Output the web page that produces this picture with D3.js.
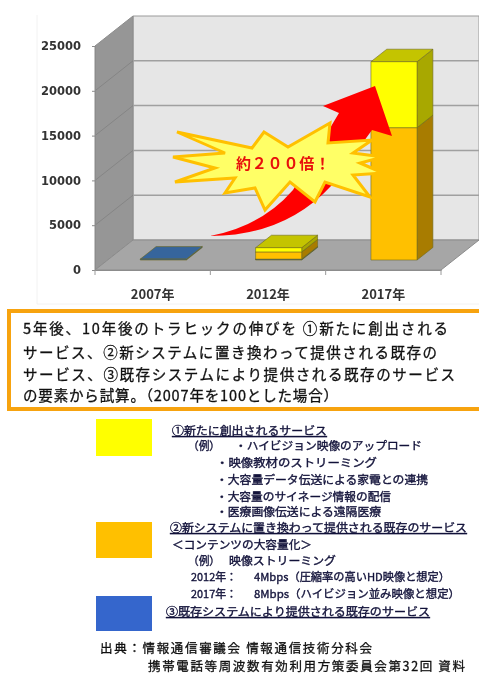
<!DOCTYPE html>
<html>
<head>
<meta charset="utf-8">
<script src="https://cdn.jsdelivr.net/npm/d3@7"></script>
<style>
html, body { margin: 0; padding: 0; background: #fff; overflow: hidden; }
svg { display: block; filter: blur(0.7px); }
</style>
</head>
<body>
<div id="visualizationTarget"></div>
<script>
// chart values
var years = ["2007年", "2012年", "2017年"];
var seriesNames = ["existing", "migrated", "created"];
var existing = [100, 100, 0];
var migrated = [0, 800, 14770];
var created = [0, 470, 7360];
var yTicks = [0, 5000, 10000, 15000, 20000, 25000];
var burstLabel = "約２００倍！";

var boxLines = [
    "5年後、10年後のトラヒックの伸びを ①新たに創出される",
    "サービス、②新システムに置き換わって提供される既存の",
    "サービス、③既存システムにより提供される既存のサービス",
    "の要素から試算。（2007年を100とした場合）"
];

// legend texts: [text, x, y, width, underlined]
var legendLines = [
    ["①新たに創出されるサービス", 172, 431, 155, true],
    ["（例）", 188, 446, 32, false],
    ["・ハイビジョン映像のアップロード", 235, 446, 187, false],
    ["・映像教材のストリーミング", 216, 463, 161, false],
    ["・大容量データ伝送による家電との連携", 216, 480, 212, false],
    ["・大容量のサイネージ情報の配信", 216, 497, 175, false],
    ["・医療画像伝送による遠隔医療", 216, 512, 165, false],
    ["②新システムに置き換わって提供される既存のサービス", 170, 528, 297, true],
    ["＜コンテンツの大容量化＞", 172, 545, 140, false],
    ["（例）", 188, 561, 32, false],
    ["映像ストリーミング", 229, 561, 107, false],
    ["2012年：", 191, 577, 46, false],
    ["4Mbps（圧縮率の高いHD映像と想定）", 254, 577, 196, false],
    ["2017年：", 191, 594, 46, false],
    ["8Mbps（ハイビジョン並み映像と想定）", 254, 594, 206, false],
    ["③既存システムにより提供される既存のサービス", 166, 612, 264, true]
];

var sourceLines = [
    ["出典：情報通信審議会 情報通信技術分科会", 100, 649, 272],
    ["携帯電話等周波数有効利用方策委員会第32回 資料", 148, 667, 317]
];

var width = 479, height = 674;
var jpFont = "'Noto Sans CJK JP', sans-serif";

var svg = d3.select("#visualizationTarget").append("svg")
    .attr("width", width)
    .attr("height", height);

// 3d box settings
var left = 95, right = 441, depthX = 38, depthY = 30;
var barFront = 1 / 3, barBack = 0.75;

var y = d3.scaleLinear().domain([0, 25000]).range([270, 46]);
var x = d3.scaleBand().domain(years).range([left, right]).paddingInner(0.6).paddingOuter(0.3);

function project(px, v, d) {
    return [px + depthX * d, y(v) - depthY * d];
}
function poly(points) {
    return "M" + points.map(function(p){ return p.join(","); }).join("L") + "Z";
}

// faint frame around the chart picture
svg.append("path")
    .attr("d", "M37,15V304H479")
    .attr("fill", "none")
    .attr("stroke", "#f2f2f2");

// walls and floor
svg.append("path")
    .attr("d", poly([project(left, 25000, 1), project(width - depthX, 25000, 1), project(width - depthX, 0, 1), project(left, 0, 1)]))
    .attr("fill", "#e6e6e6")
    .attr("stroke", "#9a9a9a");
svg.append("path")
    .attr("d", poly([project(left, 25000, 0), project(left, 25000, 1), project(left, 0, 1), project(left, 0, 0)]))
    .attr("fill", "#969696")
    .attr("stroke", "#8c8c8c");
svg.append("path")
    .attr("d", poly([project(left, 0, 0), project(left, 0, 1), project(width - depthX, 0, 1), project(right, 0, 0)]))
    .attr("fill", "#a6a6a6")
    .attr("stroke", "#8c8c8c");

// gridlines on back wall and left wall
var grid = svg.append("g").selectAll("g")
    .data(yTicks.slice(1, 5))
    .enter().append("g")
    .attr("fill", "none");
grid.append("path")
    .attr("d", function(d){ return d3.line()([project(left, d, 1), project(width - depthX, d, 1)]); })
    .attr("stroke", "#a0a0a0")
    .attr("stroke-width", 1.5);
grid.append("path")
    .attr("d", function(d){ return d3.line()([project(left, d, 0), project(left, d, 1)]); })
    .attr("stroke", "#858585");

// axes
var yAxis = svg.append("g")
    .attr("transform", "translate(" + left + ",0)")
    .call(d3.axisLeft(y).tickValues(yTicks).tickSize(3).tickPadding(11).tickFormat(d3.format("d")));
yAxis.select(".domain").attr("stroke", "#8c8c8c");
yAxis.selectAll("line").attr("stroke", "#8c8c8c");
yAxis.selectAll("text")
    .attr("fill", "#333")
    .style("font", "bold 11.5px 'DejaVu Sans', sans-serif");

var xAxisScale = d3.scaleBand().domain(years).range([left, right]);
var xAxis = svg.append("g")
    .attr("transform", "translate(0,270)")
    .call(d3.axisBottom(xAxisScale).tickSize(0).tickPadding(20));
xAxis.select(".domain").attr("stroke", "#8c8c8c");
xAxis.selectAll("text")
    .attr("fill", "#333")
    .style("font", "bold 13px " + jpFont);
svg.append("g").selectAll("line")
    .data([0, 1, 2, 3])
    .enter().append("line")
    .attr("x1", function(i){ return left + i * xAxisScale.bandwidth(); })
    .attr("x2", function(i){ return left + i * xAxisScale.bandwidth(); })
    .attr("y1", 270)
    .attr("y2", 275)
    .attr("stroke", "#9a9a9a");

// stacked bars
var rows = years.map(function(year, i){
    return { year: year, existing: existing[i], migrated: migrated[i], created: created[i] };
});
var stacked = d3.stack().keys(seriesNames)(rows);

var faceColors = {
    existing: { front: "#2f5f9e", top: "#36659c", side: "#274f85" },
    migrated: { front: "#ffc000", top: "#c89600", side: "#a87c00" },
    created: { front: "#ffff00", top: "#c4c400", side: "#a8a800" }
};

var faces = [];
stacked.forEach(function(layer){
    layer.forEach(function(d){
        if (d[1] - d[0] <= 0) return;
        faces.push({ key: layer.key, year: d.data.year, y0: d[0], y1: d[1] });
    });
});

function barX0(d) { return x(d.year) - 2; }
function barX1(d) { return x(d.year) - 2 + x.bandwidth(); }

var bars = svg.append("g").selectAll("g")
    .data(faces)
    .enter().append("g")
    .attr("stroke", "#6f6a20")
    .attr("stroke-width", 0.6)
    .attr("stroke-linejoin", "round");
bars.append("path")
    .attr("fill", function(d){ return faceColors[d.key].side; })
    .attr("d", function(d){
        return poly([project(barX1(d), d.y0, barFront), project(barX1(d), d.y0, barBack), project(barX1(d), d.y1, barBack), project(barX1(d), d.y1, barFront)]);
    });
bars.append("path")
    .attr("fill", function(d){ return faceColors[d.key].top; })
    .attr("d", function(d){
        return poly([project(barX0(d), d.y1, barFront), project(barX0(d), d.y1, barBack), project(barX1(d), d.y1, barBack), project(barX1(d), d.y1, barFront)]);
    });
bars.append("path")
    .attr("fill", function(d){ return faceColors[d.key].front; })
    .attr("d", function(d){
        return poly([project(barX0(d), d.y0, barFront), project(barX1(d), d.y0, barFront), project(barX1(d), d.y1, barFront), project(barX0(d), d.y1, barFront)]);
    });

// red growth arrow
svg.append("path")
    .attr("fill", "#ff0000")
    .attr("d", "M210,236Q262,226 293,190L339,113L323,106L375,86L392,136L372,130L332,185Q285,236 210,236Z");

// burst
var burst = [[177,132],[252,148],[264,132],[288,147],[330,123],[328,143],[372,140],[353,153],[383,157],[360,163],[383,173],[353,175],[370,197],[325,182],[315,202],[290,182],[265,210],[255,188],[225,193],[235,178],[175,182],[215,168],[173,157],[225,153]];
svg.append("path")
    .attr("d", poly(burst))
    .attr("fill", "#ffff66")
    .attr("stroke", "#ffc000")
    .attr("stroke-width", 3)
    .attr("stroke-linejoin", "miter");
svg.append("text")
    .attr("x", 283)
    .attr("y", 169)
    .attr("text-anchor", "middle")
    .attr("fill", "#e8100c")
    .attr("textLength", 94)
    .style("font", "bold 15px " + jpFont)
    .text(burstLabel);

// text box
svg.append("rect")
    .attr("x", 9)
    .attr("y", 311)
    .attr("width", 490)
    .attr("height", 98)
    .attr("fill", "#fff")
    .attr("stroke", "#f7a30f")
    .attr("stroke-width", 4);
svg.append("g").selectAll("text")
    .data(boxLines)
    .enter().append("text")
    .attr("x", 23)
    .attr("y", function(d, i){ return [334, 358, 380, 401][i]; })
    .attr("textLength", function(d, i){ return [425, 414, 432, 315][i]; })
    .attr("fill", "#111")
    .attr("stroke", "#111")
    .attr("stroke-width", 0.3)
    .style("font", "14.5px " + jpFont)
    .text(function(d){ return d; });

// legend swatches
var swatchColors = ["#ffff00", "#ffc000", "#3566cc"];
var swatchY = d3.scaleOrdinal().domain(swatchColors).range([419, 522, 596]);
var swatchH = d3.scaleOrdinal().domain(swatchColors).range([37, 36, 35]);
svg.append("g").selectAll("rect")
    .data(swatchColors)
    .enter().append("rect")
    .attr("x", 96)
    .attr("width", 56)
    .attr("y", function(d){ return swatchY(d); })
    .attr("height", function(d){ return swatchH(d); })
    .attr("fill", function(d){ return d; });

// legend lines
svg.append("g").selectAll("text")
    .data(legendLines)
    .enter().append("text")
    .attr("x", function(d){ return d[1]; })
    .attr("y", function(d){ return d[2] + 4; })
    .attr("textLength", function(d){ return d[3]; })
    .attr("lengthAdjust", "spacingAndGlyphs")
    .attr("fill", "#12123a")
    .attr("stroke", "#12123a")
    .attr("stroke-width", 0.35)
    .attr("text-decoration", function(d){ return d[4] ? "underline" : null; })
    .style("font", "11px " + jpFont)
    .text(function(d){ return d[0]; });

// source
svg.append("g").selectAll("text")
    .data(sourceLines)
    .enter().append("text")
    .attr("x", function(d){ return d[1]; })
    .attr("y", function(d){ return d[2] + 4; })
    .attr("textLength", function(d){ return d[3]; })
    .attr("fill", "#111")
    .attr("stroke", "#111")
    .attr("stroke-width", 0.3)
    .style("font", "12.5px " + jpFont)
    .text(function(d){ return d[0]; });
</script>
</body>
</html>
